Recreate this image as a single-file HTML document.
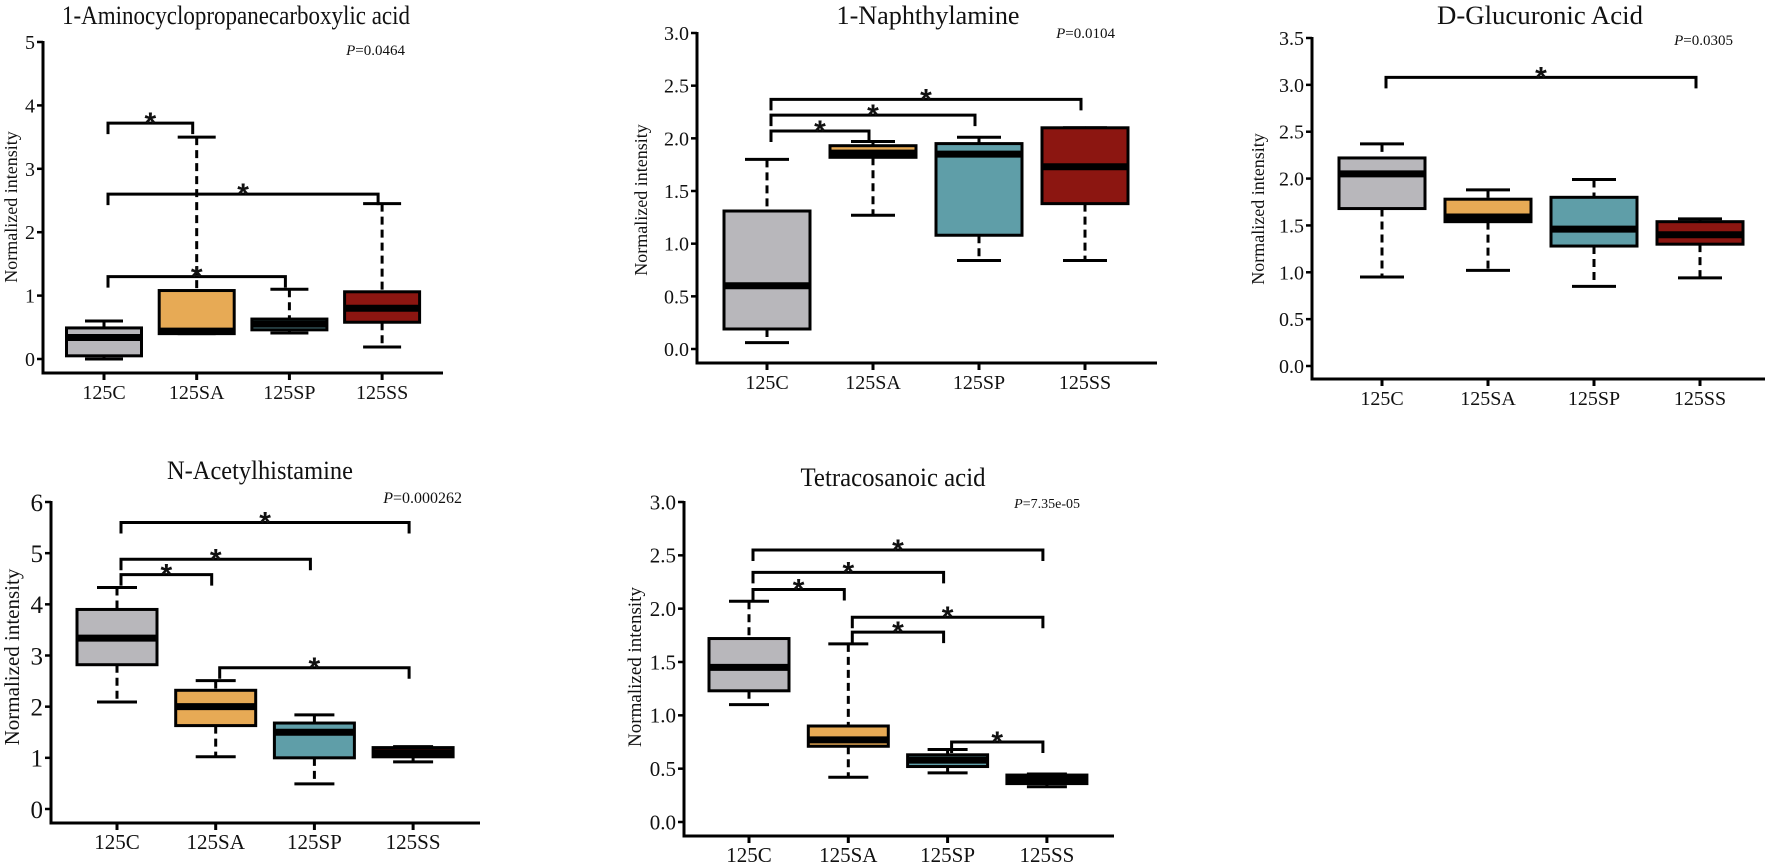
<!DOCTYPE html>
<html><head><meta charset="utf-8"><style>
html,body{margin:0;padding:0;background:#fff;}
svg{display:block;font-family:"Liberation Serif",serif;}
</style></head><body>
<svg id="fig" width="1772" height="867" viewBox="0 0 1772 867" xmlns="http://www.w3.org/2000/svg"></svg>
<script>
// ---- data ----
const categories = ["125C","125SA","125SP","125SS"];
const fills = ["#b8b7bb","#e7aa55","#5f9ea8","#8c1611"];

const p1Title = "1-Aminocyclopropanecarboxylic acid";
const p1P = "=0.0464";
const p1Lo  = [0.00,0.40,0.41,0.19];
const p1Q1  = [0.05,0.40,0.46,0.58];
const p1Med = [0.34,0.44,0.55,0.80];
const p1Q3  = [0.49,1.08,0.63,1.06];
const p1Hi  = [0.60,3.50,1.10,2.45];
const p1Brk = [[0,1,3.72],[0,3,2.60],[0,2,1.30]];
const p1Ticks = [0,1,2,3,4,5];

const p2Title = "1-Naphthylamine";
const p2P = "=0.0104";
const p2Lo  = [0.06,1.27,0.84,0.84];
const p2Q1  = [0.19,1.82,1.08,1.38];
const p2Med = [0.60,1.86,1.85,1.73];
const p2Q3  = [1.31,1.93,1.95,2.10];
const p2Hi  = [1.80,1.97,2.01,2.10];
const p2Brk = [[0,1,2.07],[0,2,2.22],[0,3,2.37]];
const p2Ticks = [0,0.5,1,1.5,2,2.5,3];

const p3Title = "D-Glucuronic Acid";
const p3P = "=0.0305";
const p3Lo  = [0.95,1.02,0.85,0.94];
const p3Q1  = [1.68,1.54,1.28,1.30];
const p3Med = [2.05,1.59,1.46,1.40];
const p3Q3  = [2.22,1.78,1.80,1.54];
const p3Hi  = [2.37,1.88,1.99,1.57];
const p3Brk = [[0,3,3.08]];
const p3Ticks = [0,0.5,1,1.5,2,2.5,3,3.5];

const p4Title = "N-Acetylhistamine";
const p4P = "=0.000262";
const p4Lo  = [2.09,1.02,0.49,0.92];
const p4Q1  = [2.82,1.63,1.00,1.02];
const p4Med = [3.34,2.00,1.50,1.10];
const p4Q3  = [3.90,2.32,1.68,1.20];
const p4Hi  = [4.33,2.51,1.84,1.22];
const p4Brk = [[0,3,5.60],[0,2,4.88],[0,1,4.58],[1,3,2.76]];
const p4Ticks = [0,1,2,3,4,5,6];

const p5Title = "Tetracosanoic acid";
const p5P = "=7.35e-05";
const p5Lo  = [1.10,0.42,0.46,0.33];
const p5Q1  = [1.23,0.71,0.52,0.36];
const p5Med = [1.45,0.77,0.58,0.40];
const p5Q3  = [1.72,0.90,0.63,0.44];
const p5Hi  = [2.07,1.67,0.68,0.45];
const p5Brk = [[0,3,2.55],[0,2,2.34],[0,1,2.18],[1,3,1.92],[1,2,1.78],[2,3,0.75]];
const p5Ticks = [0,0.5,1,1.5,2,2.5,3];

const NS = "http://www.w3.org/2000/svg";
const svg = document.getElementById("fig");
function mk(tag, attrs, parent){
  const e = document.createElementNS(NS, tag);
  for (const k in attrs) e.setAttribute(k, attrs[k]);
  (parent||svg).appendChild(e);
  return e;
}

function drawPanel(L, title, pTxt, lo, q1, med, q3, hi, brk, ticks, key){
  const g = mk("g", {});
  
  
  const ymax = ticks[ticks.length-1];
  const y = v => L.y0 - v * (L.y0 - L.ytop) / ymax;
  const x = i => L.c0 + i * L.sp;

  const t = mk("text", {x:L.tx, y:L.ty, "text-anchor":"middle", "font-size":L.tfs, textLength:L.tlen, lengthAdjust:"spacingAndGlyphs", fill:"#111"}, g);
  t.textContent = title;
  
  

  const p = mk("text", {x:L.px, y:L.py, "text-anchor":"end", "font-size":L.pfs, fill:"#111"}, g);
  const pi = mk("tspan", {"font-style":"italic"}, p); pi.textContent = "P";
  const pr = mk("tspan", {}, p); pr.textContent = pTxt;
  
  

  const ya = mk("line", {x1:L.ax, y1:y(ymax)-1, x2:L.ax, y2:L.xy+1.5, stroke:"#000","stroke-width":3}, g);
  
  
  const xa = mk("line", {x1:L.ax-1.5, y1:L.xy, x2:L.xe, y2:L.xy, stroke:"#000","stroke-width":3}, g);
  
  

  ticks.forEach(v => {
    mk("line", {x1:L.ax-6, y1:y(v), x2:L.ax, y2:y(v), stroke:"#000","stroke-width":2.5}, g);
    const tl = mk("text", {x:L.ax-8, y:y(v)+L.yfs*0.35, "text-anchor":"end","font-size":L.yfs, fill:"#111"}, g);
    tl.textContent = L.dec ? v.toFixed(1) : String(v);
    
    
  });

  const yl = mk("text", {x:0, y:0, transform:`translate(${L.ylx},${L.yly}) rotate(-90)`, "text-anchor":"middle","font-size":L.ylfs, fill:"#111"}, g);
  yl.textContent = "Normalized intensity";
  
  

  categories.forEach((c, i) => {
    const cx = x(i);
    mk("line", {x1:cx, y1:L.xy, x2:cx, y2:L.xy+7, stroke:"#000","stroke-width":3}, g);
    const xl = mk("text", {x:cx, y:L.xy+26, "text-anchor":"middle","font-size":L.xfs, fill:"#111"}, g);
    xl.textContent = c;
    
    

    const bg = mk("g", {}, g);
    
    
    mk("line", {x1:cx, y1:y(hi[i]), x2:cx, y2:y(q3[i]), stroke:"#000","stroke-width":3,"stroke-dasharray":"8,5"}, bg);
    mk("line", {x1:cx, y1:y(q1[i]), x2:cx, y2:y(lo[i]), stroke:"#000","stroke-width":3,"stroke-dasharray":"8,5"}, bg);
    mk("line", {x1:cx-L.cw/2, y1:y(hi[i]), x2:cx+L.cw/2, y2:y(hi[i]), stroke:"#000","stroke-width":3}, bg);
    mk("line", {x1:cx-L.cw/2, y1:y(lo[i]), x2:cx+L.cw/2, y2:y(lo[i]), stroke:"#000","stroke-width":3}, bg);
    mk("rect", {x:cx-L.bw/2, y:y(q3[i]), width:L.bw, height:Math.max(0.5, y(q1[i])-y(q3[i])), fill:fills[i], stroke:"#000","stroke-width":3}, bg);
    mk("line", {x1:cx-L.bw/2, y1:y(med[i]), x2:cx+L.bw/2, y2:y(med[i]), stroke:"#000","stroke-width":7}, bg);
  });

  brk.forEach(b => {
    const xa1 = x(b[0]) + 4, xb1 = x(b[1]) - 4, yy = y(b[2]);
    const bk = mk("path", {d:`M${xa1},${yy+11} L${xa1},${yy} L${xb1},${yy} L${xb1},${yy+11}`, fill:"none", stroke:"#000","stroke-width":3}, g);
    
    
    const st = mk("text", {x:(xa1+xb1)/2, y:yy+10, "text-anchor":"middle","font-size":30,"font-weight":"bold","font-family":"Liberation Sans, sans-serif", fill:"#111"}, g);
    st.textContent = "*";
    
    
  });
}

drawPanel({ax:43,y0:359,ytop:42,dec:0,xy:373,xe:443,c0:104,sp:92.7,bw:75,cw:38,
  tx:236,ty:24,tfs:26,tlen:348,px:405,py:55,pfs:15,yfs:20,ylx:17,yly:207,ylfs:18,xfs:20},
  p1Title,p1P,p1Lo,p1Q1,p1Med,p1Q3,p1Hi,p1Brk,p1Ticks,"aminocyclopropane");
drawPanel({ax:697,y0:349,ytop:33,dec:1,xy:363,xe:1157,c0:767,sp:106,bw:86,cw:44,
  tx:928,ty:24,tfs:26,tlen:183,px:1115,py:38,pfs:15,yfs:20,ylx:647,yly:200,ylfs:18,xfs:20},
  p2Title,p2P,p2Lo,p2Q1,p2Med,p2Q3,p2Hi,p2Brk,p2Ticks,"naphthylamine");
drawPanel({ax:1312,y0:366,ytop:38,dec:1,xy:379,xe:1765,c0:1382,sp:106,bw:86,cw:44,
  tx:1540,ty:24,tfs:26,tlen:206,px:1733,py:45,pfs:15,yfs:20,ylx:1264,yly:209,ylfs:18,xfs:20},
  p3Title,p3P,p3Lo,p3Q1,p3Med,p3Q3,p3Hi,p3Brk,p3Ticks,"glucuronic");
drawPanel({ax:51,y0:809,ytop:502,dec:0,xy:823,xe:480,c0:117,sp:98.7,bw:80,cw:40,
  tx:260,ty:479,tfs:26,tlen:186,px:462,py:503,pfs:16,yfs:25,ylx:19,yly:657,ylfs:21,xfs:21},
  p4Title,p4P,p4Lo,p4Q1,p4Med,p4Q3,p4Hi,p4Brk,p4Ticks,"acetylhistamine");
drawPanel({ax:684,y0:822,ytop:502,dec:1,xy:836,xe:1114,c0:749,sp:99.3,bw:80,cw:40,
  tx:893,ty:486,tfs:26,tlen:185,px:1080,py:508,pfs:14,yfs:21,ylx:641,yly:667,ylfs:19,xfs:21},
  p5Title,p5P,p5Lo,p5Q1,p5Med,p5Q3,p5Hi,p5Brk,p5Ticks,"tetracosanoic");
</script>
</body></html>
